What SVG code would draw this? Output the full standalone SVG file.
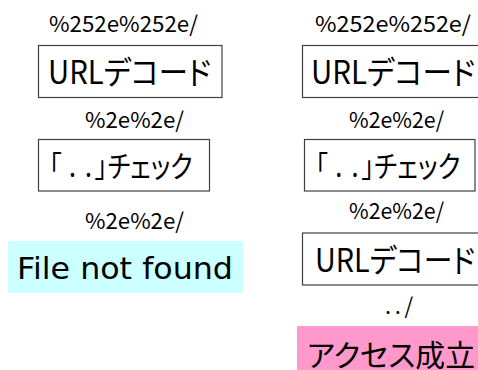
<svg xmlns="http://www.w3.org/2000/svg" width="478" height="370" viewBox="0 0 478 370">
<style>
  .box { fill: #ffffff; stroke: #404040; stroke-width: 1.2; }
  .lbl { font-family: "Noto Sans CJK JP", "Liberation Sans", sans-serif; font-size: 22px; fill: #000; }
  .big { font-family: "Noto Sans CJK JP", "Liberation Sans", sans-serif; font-size: 32px; fill: #000; font-feature-settings: "palt"; }
  .mid { font-family: "Noto Sans CJK JP", "Liberation Sans", sans-serif; font-size: 30px; fill: #000; font-feature-settings: "palt"; }
  .res { font-family: "DejaVu Sans", sans-serif; font-size: 31px; fill: #000; }
</style>
<rect width="478" height="370" fill="#ffffff"/>

<!-- Left column -->
<g id="left-input"><text class="lbl" x="49" y="32" textLength="149" lengthAdjust="spacingAndGlyphs">%252e%252e/</text></g>
<g id="left-decode"><rect class="box" x="38.5" y="45.5" width="183.5" height="52"/><text class="big" x="48" y="84" textLength="163" lengthAdjust="spacingAndGlyphs">URLデコード</text></g>
<g id="left-mid1"><text class="lbl" x="85" y="128" textLength="99" lengthAdjust="spacingAndGlyphs">%2e%2e/</text></g>
<g id="left-check"><rect class="box" x="38.5" y="139.5" width="171" height="51.5"/><text class="mid" transform="translate(49,177) scale(0.83,1)"><tspan x="0">「</tspan><tspan x="24">.</tspan><tspan x="43.5">.</tspan><tspan x="55.5">」チェック</tspan></text></g>
<g id="left-mid2"><text class="lbl" x="85" y="229" textLength="99" lengthAdjust="spacingAndGlyphs">%2e%2e/</text></g>
<g id="left-result"><rect x="8" y="241" width="235" height="52" fill="#ccffff"/><text class="res" x="17" y="279" textLength="216" lengthAdjust="spacingAndGlyphs">File not found</text></g>

<!-- Right column -->
<g id="right-input"><text class="lbl" x="315" y="32" textLength="156" lengthAdjust="spacingAndGlyphs">%252e%252e/</text></g>
<g id="right-decode1"><rect class="box" x="302.5" y="45.5" width="200" height="52"/><text class="big" x="311" y="84" textLength="164" lengthAdjust="spacingAndGlyphs">URLデコード</text></g>
<g id="right-mid1"><text class="lbl" x="349" y="128" textLength="95" lengthAdjust="spacingAndGlyphs">%2e%2e/</text></g>
<g id="right-check"><rect class="box" x="304.5" y="139.5" width="170.5" height="51.5"/><text class="mid" transform="translate(315,177) scale(0.84,1)"><tspan x="0">「</tspan><tspan x="24">.</tspan><tspan x="43.5">.</tspan><tspan x="55.5">」チェック</tspan></text></g>
<g id="right-mid2"><text class="lbl" x="349" y="219" textLength="95" lengthAdjust="spacingAndGlyphs">%2e%2e/</text></g>
<g id="right-decode2"><rect class="box" x="302.5" y="233" width="200" height="52"/><text class="big" x="315" y="272" textLength="160" lengthAdjust="spacingAndGlyphs">URLデコード</text></g>
<g id="right-mid3"><text class="lbl" x="385" y="314" textLength="28" lengthAdjust="spacing">../</text></g>
<g id="right-result"><rect x="297" y="326" width="190" height="50" fill="#ff99cc"/><text class="mid" x="307" y="366" textLength="168" lengthAdjust="spacingAndGlyphs">アクセス成立</text></g>

<g id="connectors"></g>
</svg>
